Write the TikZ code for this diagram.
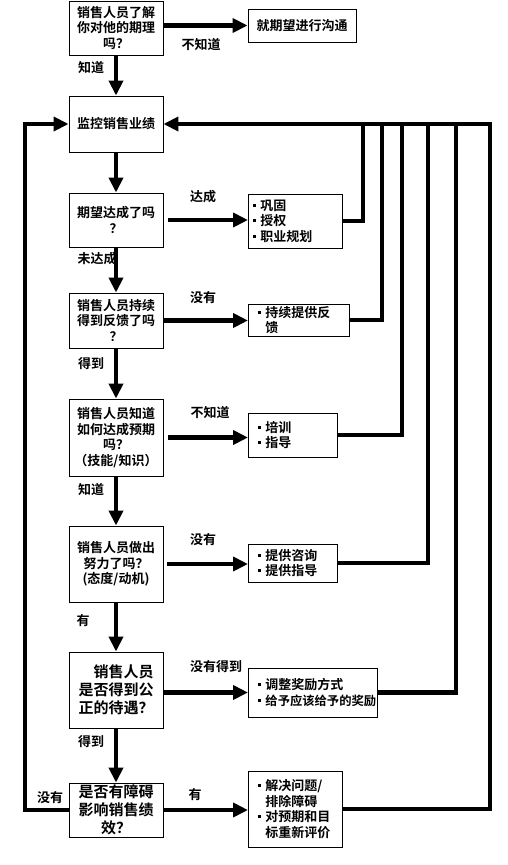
\documentclass[tikz,border=0pt]{standalone}
\usepackage{fontspec}
\setmainfont{Noto Sans CJK SC Bold}
\usetikzlibrary{arrows.meta}
\newcommand\bul{\makebox[7pt][l]{\rule[3.5pt]{3pt}{3pt}}}
\newcommand\nobul{\hspace*{7pt}}
\begin{document}
\begin{tikzpicture}[x=1pt,y=-1pt,
  box/.style={draw, line width=0.9pt, minimum width=94pt, inner sep=0pt, align=center, font=\fontsize{13}{15.5}\selectfont},
  bigbox/.style={box, font=\fontsize{15}{18}\selectfont},
  rbox/.style={draw, line width=0.9pt, inner xsep=10pt, inner ysep=0pt, align=left, anchor=west, font=\fontsize{13}{15.5}\selectfont},
  arr/.style={line width=4.5pt, -{Triangle[length=15pt,width=14pt]}},
  ln/.style={line width=4.5pt},
  lbl/.style={font=\fontsize{13}{15}\selectfont, inner sep=0pt}]
\useasboundingbox (0,0) rectangle (508,865);
% left column
\node[box, minimum height=54pt] (b1) at (116,28) {销售人员了解\\你对他的期理\\吗？};
\node[box, minimum height=56pt] (b2) at (116,124) {监控销售业绩};
\node[box, minimum height=54pt] (b3) at (116,220) {期望达成了吗\\？};
\node[box, minimum height=55pt] (b4) at (116,320.5) {销售人员持续\\得到反馈了吗\\？};
\node[box, minimum height=77pt] (b5) at (116,437.5) {销售人员知道\\如何达成预期\\吗？\\（技能/知识）};
\node[box, minimum height=76pt] (b6) at (116,564) {销售人员做出\\努力了吗？\\(态度/动机)};
\node[bigbox, minimum height=76pt, align=right] (b7) at (116,690) {销售人员\\是否得到公\\正的待遇？};
\node[bigbox, minimum height=54pt] (b8) at (116,810) {是否有障碍\\影响销售绩\\效？};
% right column
\node[box, minimum width=108pt, minimum height=33pt] (c1) at (302,25.5) {就期望进行沟通};
\node[rbox, inner xsep=5pt, text width=84pt, minimum height=54pt] (r3) at (248,221) {\bul 巩固\\\bul 授权\\\bul 职业规划};
\node[rbox, text width=81pt, minimum height=32pt] (r4) at (248,320) {\bul 持续提供反\\\nobul 馈};
\node[rbox, text width=69pt, minimum height=44pt] (r5) at (248,435) {\bul 培训\\\bul 指导};
\node[rbox, text width=69pt, minimum height=38pt] (r6) at (248,563) {\bul 提供咨询\\\bul 提供指导};
\node[rbox, text width=109pt, minimum height=49pt] (r7) at (248,692.5) {\bul 调整奖励方式\\\bul {\fontsize{12.3}{15.5}\selectfont 给予应该给予的奖励}};
\node[rbox, text width=74pt, minimum height=76pt] (r8) at (248,809) {\bul 解决问题/\\\nobul 排除障碍\\\bul 对预期和目\\\nobul 标重新评价};
% labels
\node[lbl] (l1) at (201,45) {不知道};
\node[lbl] (l2) at (91,68) {知道};
\node[lbl] (l3) at (203,197) {达成};
\node[lbl] (l4) at (97,259) {未达成};
\node[lbl] (l5) at (203,298) {没有};
\node[lbl] (l6) at (91,364) {得到};
\node[lbl] (l7) at (210,413) {不知道};
\node[lbl] (l8) at (91,490) {知道};
\node[lbl] (l9) at (203,540) {没有};
\node[lbl] (l10) at (83,621) {有};
\node[lbl] (l11) at (216,667) {没有得到};
\node[lbl] (l12) at (91,742) {得到};
\node[lbl] (l13) at (195,795) {有};
\node[lbl] (l14) at (50,798) {没有};
% down arrows
\draw[arr] (b1.south) -- (b2.north);
\draw[arr] (b2.south) -- (b3.north);
\draw[arr] (b3.south) -- (b4.north);
\draw[arr] (b4.south) -- (b5.north);
\draw[arr] (b5.south) -- (b6.north);
\draw[arr] (b6.south) -- (b7.north);
\draw[arr] (b7.south) -- (b8.north);
% right arrows
\draw[arr] (b1.east |- c1.west) -- (c1.west);
\draw[arr] ([xshift=5pt]b3.east) -- (r3.west |- b3.east);
\draw[arr] (b4.east) -- (r4.west |- b4.east);
\draw[arr] ([xshift=5pt]b5.east) -- (r5.west |- b5.east);
\draw[arr] ([xshift=4pt]b6.east) -- (r6.west |- b6.east);
\draw[arr] (b7.east |- r7.west) -- (r7.west);
\draw[arr] (b8.east) -- (r8.west |- b8.east);
% return lines
\coordinate (t3) at (363,124);
\coordinate (t4) at (382,124);
\coordinate (t5) at (402,124);
\coordinate (t6) at (428,124);
\coordinate (t7) at (456,124);
\coordinate (tr) at (490,124);
\coordinate (tl) at (25,124);
\draw[ln] (r3.east) -| (t3);
\draw[ln] (r4.east) -| (t4);
\draw[ln] (r5.east) -| (t5);
\draw[ln] (r6.east) -| (t6);
\draw[ln] (r7.east) -| (t7);
\draw[arr] (r8.east) -| (tr) -- (b2.east);
\draw[arr] (b8.west) -| (tl) -- (b2.west);
\end{tikzpicture}
\end{document}
